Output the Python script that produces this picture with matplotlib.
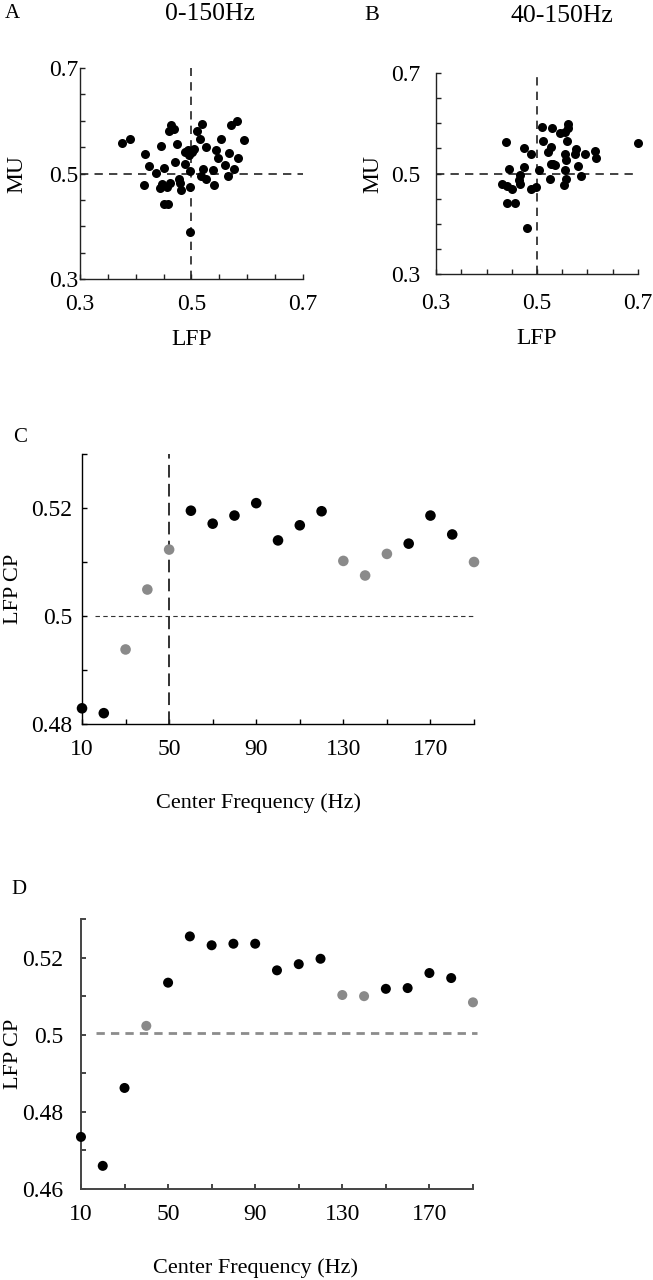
import matplotlib
matplotlib.use("Agg")
import matplotlib.pyplot as plt
import numpy as np

plt.rcParams['font.family'] = ['Liberation Serif', 'DejaVu Serif']
plt.rcParams['font.size'] = 17

# panel A: 0-150Hz
a_lfp = [0.375, 0.390, 0.416, 0.445, 0.463, 0.468, 0.459, 0.474, 0.423, 0.437,
         0.450, 0.470, 0.415, 0.443, 0.447, 0.456, 0.462, 0.451, 0.458, 0.478,
         0.480, 0.482, 0.489, 0.488, 0.493, 0.501, 0.505, 0.498, 0.497, 0.497,
         0.518, 0.510, 0.516, 0.526, 0.520, 0.517, 0.526, 0.539, 0.541, 0.544,
         0.548, 0.553, 0.560, 0.568, 0.565, 0.576, 0.584, 0.594, 0.571, 0.581,
         0.495]
a_mu = [0.558, 0.565, 0.537, 0.552, 0.592, 0.585, 0.581, 0.556, 0.514, 0.501,
        0.510, 0.521, 0.478, 0.472, 0.480, 0.475, 0.483, 0.443, 0.442, 0.489,
        0.483, 0.468, 0.518, 0.540, 0.544, 0.540, 0.547, 0.505, 0.475, 0.390,
        0.594, 0.581, 0.565, 0.550, 0.508, 0.496, 0.489, 0.506, 0.479, 0.545,
        0.529, 0.565, 0.516, 0.539, 0.496, 0.508, 0.530, 0.563, 0.592, 0.599,
        0.535]

# panel B: 40-150Hz
b_lfp = [0.439, 0.445, 0.430, 0.440, 0.450, 0.441, 0.456, 0.466, 0.465, 0.467,
         0.475, 0.475, 0.489, 0.488, 0.499, 0.503, 0.481, 0.509, 0.511, 0.526,
         0.522, 0.528, 0.530, 0.532, 0.536, 0.546, 0.555, 0.561, 0.561, 0.559,
         0.555, 0.557, 0.555, 0.557, 0.554, 0.577, 0.575, 0.581, 0.587, 0.595,
         0.614, 0.617, 0.700, 0.527]
b_mu = [0.563, 0.509, 0.480, 0.476, 0.469, 0.441, 0.441, 0.498, 0.487, 0.480,
        0.514, 0.551, 0.538, 0.469, 0.474, 0.507, 0.391, 0.592, 0.565, 0.490,
        0.542, 0.553, 0.590, 0.520, 0.517, 0.580, 0.583, 0.598, 0.590, 0.565,
        0.538, 0.527, 0.507, 0.489, 0.478, 0.549, 0.538, 0.516, 0.496, 0.538,
        0.545, 0.530, 0.561, 0.520]

# panels C and D
freq = [10, 20, 30, 40, 50, 60, 70, 80, 90, 100,
        110, 120, 130, 140, 150, 160, 170, 180, 190]
c_cp = [0.4829, 0.4820, 0.4938, 0.5049, 0.5123, 0.5195, 0.5171, 0.5186, 0.5209, 0.5140,
        0.5168, 0.5194, 0.5102, 0.5075, 0.5115, 0.5134, 0.5186, 0.5151, 0.5100]
c_sig = [1, 1, 0, 0, 0, 1, 1, 1, 1, 1, 1, 1, 0, 0, 0, 1, 1, 1, 0]
d_cp = [0.4735, 0.4660, 0.4862, 0.5023, 0.5135, 0.5255, 0.5232, 0.5236, 0.5236, 0.5167,
        0.5183, 0.5197, 0.5103, 0.5100, 0.5119, 0.5121, 0.5160, 0.5147, 0.5084]
d_sig = [1, 1, 1, 0, 1, 1, 1, 1, 1, 1, 1, 1, 0, 0, 1, 1, 1, 1, 0]

W, H = 653, 1280
fig = plt.figure(figsize=(W / 100, H / 100), dpi=100)


def px(x, y):
    return x / W, 1 - y / H


def style(ax, color='k', lw=1.0, xpad=10, ypad=3):
    ax.spines['top'].set_visible(False)
    ax.spines['right'].set_visible(False)
    for s in ['left', 'bottom']:
        ax.spines[s].set_color(color)
        ax.spines[s].set_linewidth(lw)
    ax.tick_params(direction='in', length=3.5, width=lw, color=color)
    ax.tick_params(axis='x', pad=xpad)
    ax.tick_params(axis='y', pad=ypad)


def scatter_panel(rect, lfp, mu, xpad, ypad, xlp, mu_x):
    ax = fig.add_axes(rect)
    style(ax, '#222222', 1.0, xpad, ypad)
    ax.axhline(0.5, color='#222222', lw=1.2, dashes=(5, 3.7))
    ax.axvline(0.5, color='#222222', lw=1.2, dashes=(5, 3.7))
    ax.plot(lfp, mu, 'o', color='k', ms=6.5, mec='none', clip_on=False, zorder=3)
    ax.set_xlim(0.3, 0.7)
    ax.set_ylim(0.3, 0.7)
    ax.set_xticks(np.arange(0.3, 0.701, 0.05))
    ax.set_xticklabels(['0.3', '', '', '', '0.5', '', '', '', '0.7'])
    ax.set_yticks(np.arange(0.3, 0.701, 0.05))
    ax.set_yticklabels(['0.3', '', '', '', '0.5', '', '', '', '0.7'])
    ax.set_xlabel('LFP', labelpad=xlp, fontsize=17)
    ax.set_ylabel('MU', fontsize=17)
    ax.yaxis.set_label_coords(mu_x, 0.5)
    return ax


scatter_panel([0.1225, 0.7820, 0.3415, 0.1648], a_lfp, a_mu, 11, 1.5, 10, -0.235)
scatter_panel([0.6677, 0.7859, 0.3093, 0.1570], b_lfp, b_mu, 14, 11, 10, -0.262)

fig.text(*px(5, 14), 'A', fontsize=15, va='center', ha='left')
fig.text(*px(210, 14), '0-150Hz', fontsize=18.5, va='center', ha='center')
fig.text(*px(364, 16), 'B', fontsize=16, va='center', ha='left')
fig.text(*px(562, 16), '40-150Hz', fontsize=18.5, va='center', ha='center')


def freq_panel(rect, cp, sig, size, lab_x):
    ax = fig.add_axes(rect)
    cols = ['k' if s else '#8a8a8a' for s in sig]
    ax.scatter(freq, cp, s=size, c=cols, edgecolors='none', zorder=3, clip_on=False)
    ax.set_xlim(10, 190)
    ax.set_xticks(np.arange(10, 191, 20))
    ax.set_xticklabels(['10', '', '50', '', '90', '', '130', '', '170', ''])
    ax.set_xlabel('Center Frequency (Hz)', labelpad=24, fontsize=16)
    ax.xaxis.label.set_x(lab_x)
    return ax


axc = freq_panel([0.1256, 0.4344, 0.6003, 0.2109], c_cp, c_sig, 58, 0.449)
style(axc, 'k', 1.0, 11, 7)
axc.set_ylim(0.48, 0.53)
axc.set_yticks(np.arange(0.48, 0.5301, 0.01))
axc.set_yticklabels(['0.48', '', '0.5', '', '0.52', ''])
axc.set_ylabel('LFP CP', fontsize=16)
axc.yaxis.set_label_coords(-0.15, 0.5)
axc.plot([16, 191], [0.5, 0.5], color='#333333', lw=0.8, dashes=(4, 3), clip_on=False)
axc.plot([50, 50], [0.48, 0.53], color='#222222', lw=1.3, dashes=(7, 3.5))
fig.text(*px(13, 437), 'C', fontsize=15, va='center', ha='left')

axd = freq_panel([0.1240, 0.0711, 0.6003, 0.2109], d_cp, d_sig, 52, 0.446)
style(axd, '#444444', 1.4, 11, 13)
axd.set_ylim(0.46, 0.53)
axd.set_yticks(np.arange(0.46, 0.5301, 0.01))
axd.set_yticklabels(['0.46', '', '0.48', '', '0.5', '', '0.52', ''])
axd.set_ylabel('LFP CP', fontsize=16)
axd.yaxis.set_label_coords(-0.148, 0.5)
axd.plot([17, 192], [0.5004, 0.5004], color='#8c8c8c', lw=2.0, dashes=(3, 2.2), clip_on=False)
fig.text(*px(11, 889), 'D', fontsize=15, va='center', ha='left')

fig.savefig('out.png', dpi=100)
